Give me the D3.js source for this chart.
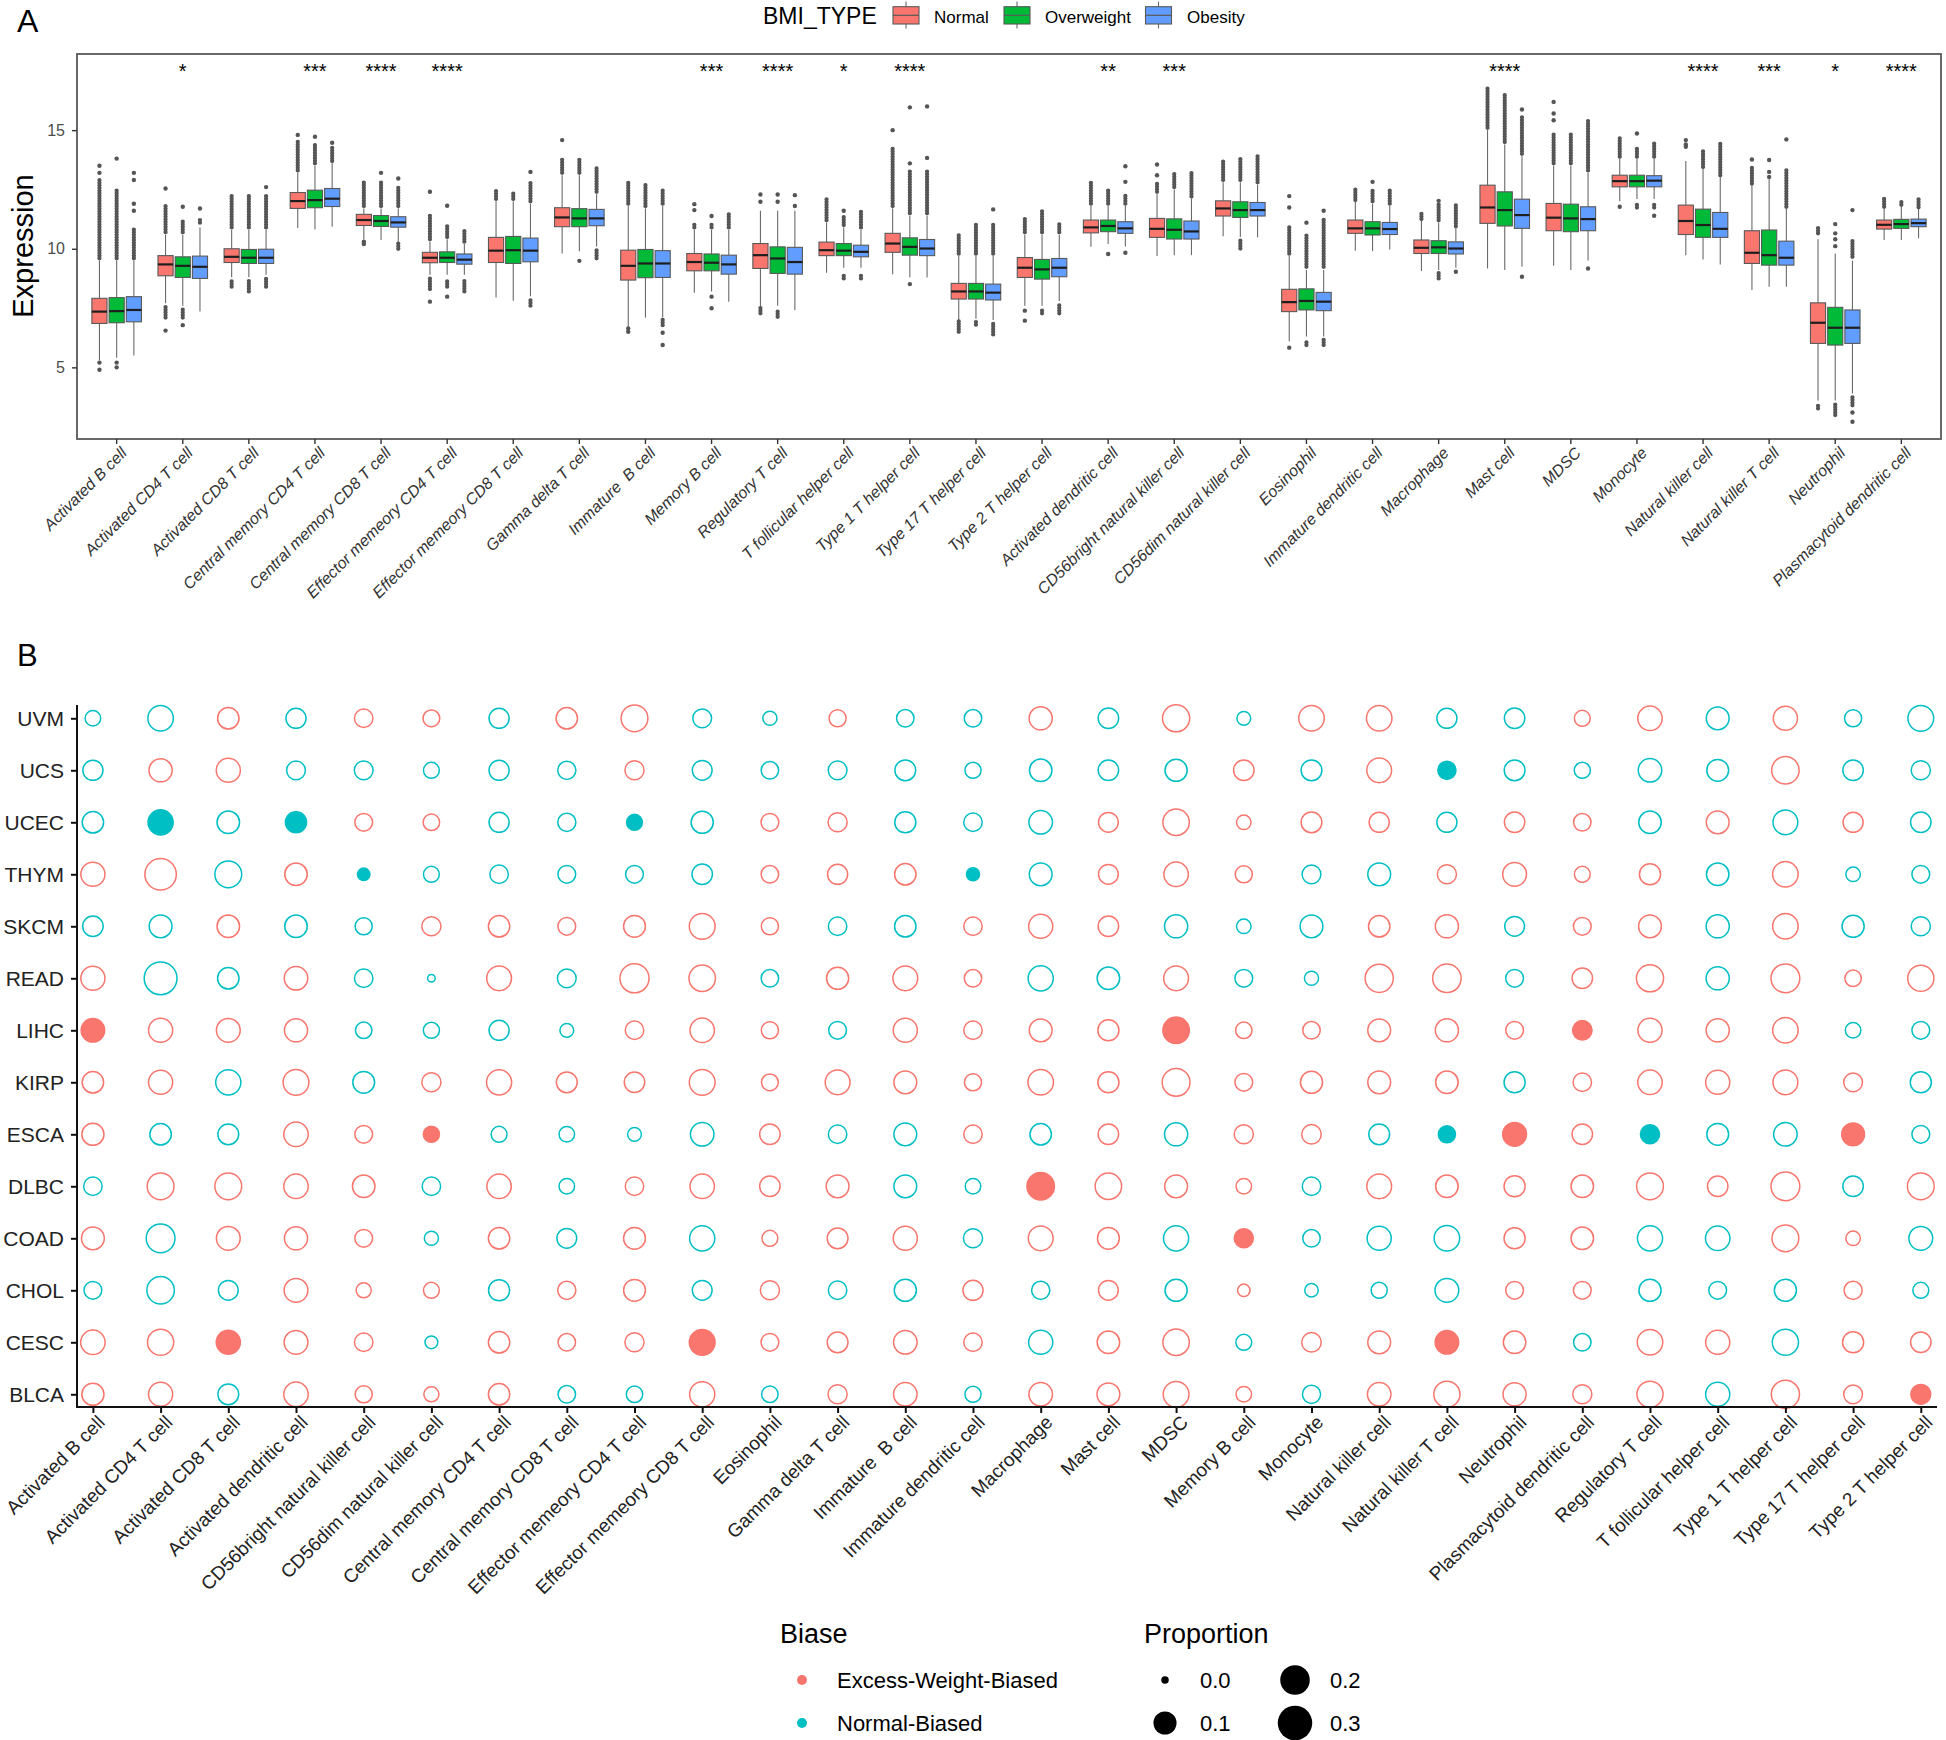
<!DOCTYPE html>
<html><head><meta charset="utf-8">
<script src="https://cdn.jsdelivr.net/npm/d3@7"></script>
<style>
body{margin:0;background:#fff}
svg{display:block}
text{white-space:pre}
</style>
</head><body>
<svg id="chart" width="1946" height="1740"></svg>
<script>
// ---------------- DATA: panel A ----------------
const cellTypesA = ["Activated B cell","Activated CD4 T cell","Activated CD8 T cell","Central memory CD4 T cell","Central memory CD8 T cell","Effector memeory CD4 T cell","Effector memeory CD8 T cell","Gamma delta T cell","Immature  B cell","Memory B cell","Regulatory T cell","T follicular helper cell","Type 1 T helper cell","Type 17 T helper cell","Type 2 T helper cell","Activated dendritic cell","CD56bright natural killer cell","CD56dim natural killer cell","Eosinophil","Immature dendritic cell","Macrophage","Mast cell","MDSC","Monocyte","Natural killer cell","Natural killer T cell","Neutrophil","Plasmacytoid dendritic cell"];
const groups = ["Normal","Overweight","Obesity"];
const yTicksA = [5,10,15];
const signifLabels = ["","*","","***","****","****","","","","***","****","*","****","","","**","***","","","","","****","","","****","***","*","****"];

// [lower whisker, Q1, median, Q3, upper whisker]
const statsNormal = [[5.3,6.85,7.35,7.91,9.5],[7.7,8.86,9.34,9.71,10.6],[8.8,9.42,9.66,10.0,10.8],[10.88,11.7,12.01,12.37,13.2],[10.4,10.98,11.21,11.45,11.7],[8.9,9.41,9.62,9.85,10.3],[7.94,9.42,9.92,10.48,12.0],[9.8,10.93,11.32,11.73,13.1],[6.71,8.68,9.28,9.94,11.8],[8.15,9.07,9.44,9.8,10.8],[7.56,9.17,9.73,10.22,11.6],[8.99,9.71,9.94,10.28,11.1],[8.93,9.85,10.22,10.65,11.7],[7.0,7.88,8.2,8.54,9.7],[7.6,8.79,9.2,9.63,10.6],[10.08,10.67,10.9,11.21,11.8],[9.69,10.48,10.84,11.28,12.3],[10.53,11.38,11.7,12.02,12.8],[6.1,7.35,7.75,8.29,9.7],[9.92,10.65,10.86,11.21,12.0],[9.06,9.8,10.04,10.37,11.2],[9.17,11.07,11.74,12.68,15.0],[9.28,10.76,11.31,11.91,13.5],[12.0,12.61,12.85,13.1,13.8],[9.73,10.6,11.17,11.84,13.7],[8.26,9.38,9.83,10.76,12.7],[3.6,6.01,6.88,7.72,10.4],[10.37,10.83,11.01,11.21,11.7]];
const statsOverweight = [[5.4,6.88,7.37,7.94,9.5],[7.6,8.79,9.28,9.66,10.6],[8.8,9.38,9.62,9.97,10.8],[10.81,11.73,12.05,12.47,13.5],[10.37,10.94,11.17,11.4,11.7],[8.9,9.42,9.62,9.87,10.4],[7.81,9.38,9.94,10.52,12.0],[9.9,10.93,11.28,11.69,13.1],[7.1,8.78,9.38,9.97,11.7],[8.2,9.07,9.41,9.78,10.8],[7.6,8.96,9.59,10.08,11.6],[9.2,9.71,9.92,10.22,10.9],[8.8,9.73,10.08,10.46,11.4],[7.05,7.88,8.2,8.54,9.7],[7.6,8.72,9.13,9.55,10.6],[10.2,10.72,10.96,11.21,11.8],[9.73,10.41,10.8,11.26,12.5],[10.5,11.32,11.63,11.98,12.8],[6.3,7.42,7.8,8.31,9.1],[9.9,10.58,10.86,11.14,11.9],[9.1,9.8,10.06,10.34,11.1],[9.1,10.96,11.63,12.4,14.4],[9.1,10.72,11.28,11.88,13.5],[12.1,12.61,12.85,13.1,13.8],[9.55,10.48,11.0,11.67,13.4],[8.4,9.31,9.73,10.79,13.0],[3.6,5.94,6.67,7.53,9.8],[10.37,10.86,11.04,11.24,11.8]];
const statsObesity = [[5.5,6.92,7.42,7.98,9.5],[7.35,8.75,9.24,9.69,10.9],[8.9,9.38,9.62,9.98,10.8],[10.93,11.78,12.11,12.54,13.6],[10.3,10.91,11.11,11.35,11.7],[8.9,9.35,9.54,9.78,10.2],[8.0,9.45,9.92,10.45,11.9],[10.1,10.97,11.28,11.66,12.3],[7.1,8.79,9.38,9.92,11.8],[7.77,8.93,9.34,9.73,10.8],[7.42,8.93,9.44,10.06,11.6],[9.2,9.66,9.87,10.15,10.8],[8.79,9.71,10.01,10.39,11.4],[7.0,7.84,8.15,8.51,9.7],[7.8,8.82,9.2,9.59,10.6],[10.1,10.65,10.86,11.14,11.8],[9.73,10.41,10.73,11.17,12.1],[10.48,11.38,11.63,11.95,12.7],[6.3,7.39,7.77,8.16,9.1],[9.97,10.6,10.83,11.11,11.8],[9.2,9.78,10.01,10.29,10.9],[9.24,10.86,11.42,12.09,13.9],[9.5,10.76,11.25,11.77,13.2],[12.1,12.61,12.87,13.08,13.8],[9.34,10.48,10.84,11.53,13.05],[8.4,9.31,9.62,10.32,11.7],[3.9,6.01,6.67,7.42,9.5],[10.44,10.93,11.08,11.25,11.7]];

// dense runs of overlapping outliers [from, to]
const streaksNormal = [[[9.6,12.9]],[[10.7,11.8],[7.1,7.6]],[[10.9,12.3],[8.4,8.7]],[[13.3,14.6]],[[11.8,12.8]],[[10.4,11.4],[8.3,8.8]],[[12.1,12.47]],[[13.2,13.8]],[[11.9,12.8]],[[10.9,11.1]],[[7.28,7.5]],[[11.2,12.1]],[[11.8,14.3]],[[9.8,10.65],[6.5,6.95]],[[10.7,11.3]],[[11.9,12.8]],[[12.4,12.78]],[[12.9,13.76]],[[9.8,10.93]],[[12.05,12.57]],[[11.25,11.56]],[[15.1,16.85]],[[13.6,14.86]],[[13.88,14.72]],[],[[12.75,13.45]],[[10.65,10.88],[3.27,3.45]],[[11.77,12.2]]];
const streaksOverweight = [[[9.6,12.5]],[[10.7,11.2],[7.1,7.5]],[[10.9,12.3],[8.2,8.7]],[[13.6,14.4]],[[11.8,12.8]],[[10.5,11.0],[8.4,8.7]],[[12.1,12.4]],[[13.2,13.8]],[[11.8,12.7]],[[10.9,11.1]],[[7.13,7.35]],[[11.0,11.4],[8.75,8.96]],[[11.5,13.3]],[[9.8,11.1],[6.8,6.95]],[[10.7,11.6],[7.28,7.49]],[[11.9,12.5]],[[12.6,13.2]],[[12.9,13.84],[10.01,10.34]],[[9.24,10.58],[5.94,6.15]],[[12.0,12.5]],[[11.2,11.9],[8.75,8.99]],[[14.5,16.52]],[[13.6,14.9]],[[13.88,14.3],[11.74,11.88]],[[13.45,14.16]],[],[[2.99,3.51]],[[11.85,12.05]]];
const streaksObesity = [[[9.6,10.9]],[[11.1,11.3]],[[10.9,12.3],[8.4,8.8]],[[13.7,14.3]],[[11.8,12.6],[10.0,10.25]],[[10.3,10.8],[8.2,8.7]],[[12.0,12.8],[7.6,7.9]],[[12.4,13.45],[9.6,10.0]],[[11.9,12.5],[6.78,7.0]],[[10.9,11.5]],[],[[10.9,11.6],[8.75,8.96]],[[11.5,13.3]],[[9.8,11.1],[6.39,6.92]],[[10.7,11.1],[7.28,7.7]],[[11.9,12.3]],[[12.2,13.24]],[[12.8,13.95]],[[9.24,11.28],[5.94,6.2]],[[11.9,12.5]],[[10.95,11.84]],[[14.0,15.56]],[[13.3,15.42]],[[13.88,14.5],[11.74,11.88]],[[13.1,14.51]],[[11.77,13.34]],[[9.66,10.37],[3.4,3.8]],[[11.75,12.1]]];

// isolated outliers
const pointsNormal = [[13.2,13.5,5.2,4.9],[12.54,6.55],[],[14.8],[10.3,10.2],[12.4,7.77],[],[14.58],[6.64,6.5],[11.63,11.88],[11.98,12.29],[],[15.0],[],[7.39,6.97],[],[13.1,13.55],[],[11.74,12.22,5.83],[],[],[],[15.42,15.7,16.19],[11.77],[14.3,14.4,14.58],[13.76],[],[]];
const pointsOverweight = [[13.8,5.2,5.0],[11.77,6.78],[],[14.72],[13.2],[11.81,7.98],[],[9.49],[],[11.38,7.98,7.49],[11.98,12.29],[11.6],[13.6,15.96,8.51],[],[],[9.78],[],[],[11.1],[12.82],[12.02],[],[],[14.86],[],[13.03,13.24,13.74],[10.11,10.4,10.65,11.04],[]];
const pointsObesity = [[11.6,11.9,12.9,13.2],[11.7],[12.6],[14.47],[12.96],[],[13.24],[],[6.46,5.94],[],[11.8,12.26],[],[13.83,16.0],[11.66],[],[12.82,13.48,9.83],[],[],[11.6],[],[9.03],[15.87,8.82],[9.17],[11.39],[],[14.61],[11.63,3.1,2.71],[]];

// ---------------- DATA: panel B ----------------
const cancers = ["UVM","UCS","UCEC","THYM","SKCM","READ","LIHC","KIRP","ESCA","DLBC","COAD","CHOL","CESC","BLCA"];
const cellTypesB = ["Activated B cell","Activated CD4 T cell","Activated CD8 T cell","Activated dendritic cell","CD56bright natural killer cell","CD56dim natural killer cell","Central memory CD4 T cell","Central memory CD8 T cell","Effector memeory CD4 T cell","Effector memeory CD8 T cell","Eosinophil","Gamma delta T cell","Immature  B cell","Immature dendritic cell","Macrophage","Mast cell","MDSC","Memory B cell","Monocyte","Natural killer cell","Natural killer T cell","Neutrophil","Plasmacytoid dendritic cell","Regulatory T cell","T follicular helper cell","Type 1 T helper cell","Type 17 T helper cell","Type 2 T helper cell"];
// E = Excess-Weight-Biased, N = Normal-Biased (one letter per cell type)
const biasRows = [
 "NNENEENEENNENNENENEENNEENENN",
 "NEENNNNNENNNNNNNNENENNNNNENN",
 "NNNNEENNNNEENNNEEEEENEENENEN",
 "EENENNNNNNEEENNEEENNEEEENENN",
 "NNENNEEEEEENNEEENNNEENEENENN",
 "ENNENNENEENEEENNENNEENEENEEE",
 "EEEENNNNEEENEEEEEEEEEEEEEENN",
 "EENENEEEEEEEEEEEEEEEENEEEEEN",
 "ENNEEENNNNENNENENEENNEENNNEN",
 "NEEEENENEEEENNEEEENEEEEEEENE",
 "ENEEENENENEEENEENENNNEENNEEN",
 "NNNEEENEENENNENENENNNEENNNEN",
 "EEEEENEEEEEEEENEENEEEENEENEE",
 "EENEEEENNENEENEEEENEEEEENEEE"
];
const proportion = [
 [.037,.156,.098,.082,.064,.048,.082,.098,.178,.067,.027,.051,.054,.054,.121,.086,.184,.025,.156,.156,.082,.086,.040,.140,.116,.135,.051,.161],
 [.082,.121,.135,.067,.067,.040,.082,.061,.071,.078,.054,.067,.090,.042,.112,.086,.107,.086,.090,.145,.061,.090,.042,.126,.103,.190,.086,.071],
 [.098,.151,.112,.094,.057,.045,.082,.061,.040,.107,.057,.071,.094,.064,.126,.078,.172,.030,.090,.082,.082,.086,.054,.112,.116,.145,.082,.086],
 [.135,.267,.178,.112,.017,.040,.064,.057,.057,.086,.054,.082,.098,.021,.116,.078,.140,.051,.067,.116,.071,.130,.040,.094,.112,.156,.030,.057],
 [.086,.116,.112,.112,.051,.071,.098,.057,.103,.161,.051,.064,.098,.064,.135,.086,.121,.030,.116,.098,.121,.078,.057,.116,.121,.156,.107,.071],
 [.135,.296,.098,.126,.064,.001,.145,.067,.220,.172,.054,.107,.145,.054,.151,.112,.145,.057,.027,.202,.208,.057,.086,.184,.121,.214,.045,.167],
 [.126,.135,.130,.121,.045,.042,.082,.025,.064,.140,.051,.057,.135,.064,.116,.094,.172,.045,.054,.116,.121,.057,.075,.135,.121,.156,.037,.057],
 [.098,.135,.151,.161,.103,.071,.151,.090,.086,.161,.048,.145,.116,.051,.156,.094,.196,.057,.107,.116,.112,.094,.064,.140,.135,.145,.067,.094],
 [.107,.098,.090,.140,.057,.042,.040,.037,.025,.126,.086,.064,.116,.064,.098,.086,.121,.071,.075,.090,.051,.130,.086,.071,.103,.126,.116,.057],
 [.064,.178,.178,.140,.112,.064,.140,.037,.064,.140,.086,.116,.116,.037,.190,.172,.116,.037,.064,.145,.112,.094,.112,.178,.086,.214,.086,.178],
 [.116,.214,.130,.121,.057,.027,.098,.078,.103,.151,.040,.090,.135,.071,.145,.103,.151,.071,.054,.135,.156,.094,.112,.151,.140,.178,.030,.130],
 [.057,.190,.078,.130,.034,.040,.094,.061,.103,.078,.071,.064,.107,.082,.061,.078,.107,.017,.023,.042,.130,.057,.057,.107,.057,.107,.061,.040],
 [.140,.167,.135,.130,.064,.019,.098,.054,.071,.161,.057,.090,.126,.064,.135,.112,.172,.040,.075,.116,.126,.112,.054,.156,.135,.167,.094,.086],
 [.107,.135,.090,.140,.051,.034,.098,.054,.045,.151,.045,.071,.126,.042,.126,.116,.161,.037,.061,.126,.167,.121,.071,.167,.135,.202,.067,.078]
];
// filled (solid) points
const filledCells = [
 ["UCS","Natural killer T cell"],
 ["UCEC","Activated CD4 T cell"],["UCEC","Activated dendritic cell"],["UCEC","Effector memeory CD4 T cell"],
 ["THYM","CD56bright natural killer cell"],["THYM","Immature dendritic cell"],
 ["LIHC","Activated B cell"],["LIHC","MDSC"],["LIHC","Plasmacytoid dendritic cell"],
 ["ESCA","CD56dim natural killer cell"],["ESCA","Natural killer T cell"],["ESCA","Neutrophil"],["ESCA","Regulatory T cell"],["ESCA","Type 17 T helper cell"],
 ["DLBC","Macrophage"],["COAD","Memory B cell"],
 ["CESC","Activated CD8 T cell"],["CESC","Effector memeory CD8 T cell"],["CESC","Natural killer T cell"],
 ["BLCA","Type 2 T helper cell"]
];
const biasLabels = {E:"Excess-Weight-Biased", N:"Normal-Biased"};
const sizeBreaks = [0.0, 0.1, 0.2, 0.3];

// ---------------- DRAWING ----------------
const FONT = '"Liberation Sans", Arial, Helvetica, sans-serif';
const svg = d3.select("#chart").attr("font-family", FONT);
const colA = {Normal:"#F8766D", Overweight:"#00BA38", Obesity:"#619CFF"};
const colB = {E:"#F8766D", N:"#00BFC4"};

// ---- Panel A ----
const A = {left:77, right:1941, top:54, bottom:439};
const xA = d3.scaleBand().domain(cellTypesA).range([A.left, A.right]).paddingInner(0).paddingOuter(0.1);
const half = 0.375 * xA.step();
const dodge = d3.scaleBand().domain(groups).range([-half, half]).paddingInner(0.12);
const yA = d3.scaleLinear().domain([1.98, 18.21]).range([A.bottom, A.top]);

svg.append("text").attr("x",17).attr("y",31.5).attr("font-size",32).attr("fill","#000").text("A");

const gA = svg.append("g");
const gSets = [
  {name:"Normal", stats:statsNormal, streaks:streaksNormal, points:pointsNormal},
  {name:"Overweight", stats:statsOverweight, streaks:streaksOverweight, points:pointsOverweight},
  {name:"Obesity", stats:statsObesity, streaks:streaksObesity, points:pointsObesity}
];
const bw = dodge.bandwidth();
gSets.forEach(gs => {
  cellTypesA.forEach((c, i) => {
    const cx = xA(c) + xA.bandwidth()/2 + dodge(gs.name) + bw/2;
    const [lo,q1,med,q3,hi] = gs.stats[i];
    const g = gA.append("g");
    g.append("line").attr("x1",cx).attr("x2",cx).attr("y1",yA(hi)).attr("y2",yA(q3)).attr("stroke","#6a6a6a").attr("stroke-width",1.1);
    g.append("line").attr("x1",cx).attr("x2",cx).attr("y1",yA(q1)).attr("y2",yA(lo)).attr("stroke","#6a6a6a").attr("stroke-width",1.1);
    gs.streaks[i].forEach(([a,b]) => {
      g.append("line").attr("x1",cx).attr("x2",cx).attr("y1",yA(a)).attr("y2",yA(b))
        .attr("stroke","#555").attr("stroke-width",4.3).attr("stroke-linecap","round")
        .attr("stroke-dasharray","0 2.6");
    });
    gs.points[i].forEach(v => {
      g.append("circle").attr("cx",cx).attr("cy",yA(v)).attr("r",2.2).attr("fill","#555");
    });
    g.append("rect").attr("x",cx-bw/2).attr("width",bw).attr("y",yA(q3)).attr("height",yA(q1)-yA(q3))
      .attr("fill",colA[gs.name]).attr("stroke","#595959").attr("stroke-width",1.1);
    g.append("line").attr("x1",cx-bw/2).attr("x2",cx+bw/2).attr("y1",yA(med)).attr("y2",yA(med))
      .attr("stroke","#1e1e1e").attr("stroke-width",2.2);
  });
});

// significance labels
gA.selectAll("text.sig").data(cellTypesA).enter().append("text")
  .attr("x", d => xA(d) + xA.bandwidth()/2).attr("y", yA(17.2))
  .attr("text-anchor","middle").attr("font-size",20).attr("fill","#000")
  .text((d,i) => signifLabels[i]);

// frame
svg.append("rect").attr("x",A.left).attr("y",A.top).attr("width",A.right-A.left).attr("height",A.bottom-A.top)
  .attr("fill","none").attr("stroke","#595959").attr("stroke-width",1.8);

// axes A
const axYA = svg.append("g").attr("transform",`translate(${A.left},0)`)
  .call(d3.axisLeft(yA).tickValues(yTicksA).tickSize(5).tickPadding(7));
axYA.attr("font-family",FONT).attr("font-size",16);
axYA.select(".domain").remove();
axYA.selectAll(".tick line").attr("stroke","#333").attr("stroke-width",1.4);
axYA.selectAll(".tick text").attr("fill","#4d4d4d");

const axXA = svg.append("g").attr("transform",`translate(0,${A.bottom})`)
  .call(d3.axisBottom(xA).tickSize(5));
axXA.attr("font-family",FONT).attr("font-size",16);
axXA.select(".domain").remove();
axXA.selectAll(".tick line").attr("stroke","#333").attr("stroke-width",1.4);
axXA.selectAll(".tick text").attr("fill","#333").attr("font-style","italic")
  .attr("x",0).attr("y",0).attr("dy","0.71em").attr("text-anchor","end")
  .attr("transform","translate(3,7) rotate(-45)");

svg.append("text").attr("transform","translate(33,246) rotate(-90)").attr("text-anchor","middle")
  .attr("font-size",29).attr("fill","#000").text("Expression");

// legend A
const legA = svg.append("g");
legA.append("text").attr("x",763).attr("y",23.5).attr("font-size",23).attr("fill","#000").text("BMI_TYPE");
const keyX = [906, 1017, 1158.5], labX = [934, 1045, 1187];
groups.forEach((gName, i) => {
  const k = legA.append("g").attr("transform",`translate(${keyX[i]},0)`);
  k.append("line").attr("x1",0).attr("x2",0).attr("y1",1.5).attr("y2",28.5).attr("stroke","#6a6a6a").attr("stroke-width",1.1);
  k.append("rect").attr("x",-13).attr("y",6.7).attr("width",26).attr("height",17.3).attr("fill",colA[gName]).attr("stroke","#595959").attr("stroke-width",1.1);
  k.append("line").attr("x1",-13).attr("x2",13).attr("y1",15.3).attr("y2",15.3).attr("stroke","#595959").attr("stroke-width",1.2);
  legA.append("text").attr("x",labX[i]).attr("y",22.5).attr("font-size",17).attr("fill","#000").text(gName);
});

// ---- Panel B ----
svg.append("text").attr("x",17).attr("y",666).attr("font-size",31).attr("fill","#000").text("B");

const B = {left:77, right:1937, top:705, bottom:1407};
const xB = d3.scalePoint().domain(cellTypesB).range([92.9, 1920.8]);
const yB = d3.scalePoint().domain(cancers).range([718.3, 1394.3]);
const rB = d3.scaleSqrt().domain([0, 0.3]).range([3, 16.5]);
const filledSet = new Set(filledCells.map(d => d[0] + "|" + d[1]));

const cellsB = [];
cancers.forEach((cn, r) => cellTypesB.forEach((ct, c) => {
  cellsB.push({cancer:cn, cell:ct, bias:biasRows[r][c], p:proportion[r][c], filled:filledSet.has(cn+"|"+ct)});
}));
svg.append("g").selectAll("circle").data(cellsB).enter().append("circle")
  .attr("cx", d => xB(d.cell)).attr("cy", d => yB(d.cancer)).attr("r", d => rB(d.p))
  .attr("fill", d => d.filled ? colB[d.bias] : "none")
  .attr("stroke", d => colB[d.bias]).attr("stroke-width",1.5);

// axes B
const axYB = svg.append("g").attr("transform",`translate(${B.left},0)`)
  .call(d3.axisLeft(yB).tickSize(6).tickPadding(7));
axYB.attr("font-family",FONT).attr("font-size",21);
axYB.select(".domain").remove();
axYB.selectAll(".tick line").attr("stroke","#111").attr("stroke-width",2);
axYB.selectAll(".tick text").attr("fill","#222").attr("dy","0.35em");

const axXB = svg.append("g").attr("transform",`translate(0,${B.bottom})`)
  .call(d3.axisBottom(xB).tickSize(6));
axXB.attr("font-family",FONT).attr("font-size",19);
axXB.select(".domain").remove();
axXB.selectAll(".tick line").attr("stroke","#111").attr("stroke-width",2);
axXB.selectAll(".tick text").attr("fill","#222")
  .attr("x",0).attr("y",0).attr("dy","0.71em").attr("text-anchor","end")
  .attr("transform","translate(3,7) rotate(-45)");

svg.append("path").attr("d",`M${B.left},${B.top}V${B.bottom}H${B.right}`)
  .attr("fill","none").attr("stroke","#111").attr("stroke-width",2);

// legend B
const legB = svg.append("g");
legB.append("text").attr("x",780).attr("y",1643).attr("font-size",27).attr("fill","#000").text("Biase");
["E","N"].forEach((b, i) => {
  const cy = 1680 + i*43;
  legB.append("circle").attr("cx",802).attr("cy",cy).attr("r",5).attr("fill",colB[b]);
  legB.append("text").attr("x",837).attr("y",cy+8).attr("font-size",22).attr("fill","#000").text(biasLabels[b]);
});
legB.append("text").attr("x",1144).attr("y",1643).attr("font-size",27).attr("fill","#000").text("Proportion");
sizeBreaks.forEach((v, i) => {
  const col = Math.floor(i/2), row = i%2;
  const cx = 1165 + col*130, cy = 1680 + row*43;
  legB.append("circle").attr("cx",cx).attr("cy",cy).attr("r",rB(v)+0.75).attr("fill","#000");
  legB.append("text").attr("x",cx+35).attr("y",cy+8).attr("font-size",22).attr("fill","#000").text(d3.format(".1f")(v));
});
</script>
</body></html>
